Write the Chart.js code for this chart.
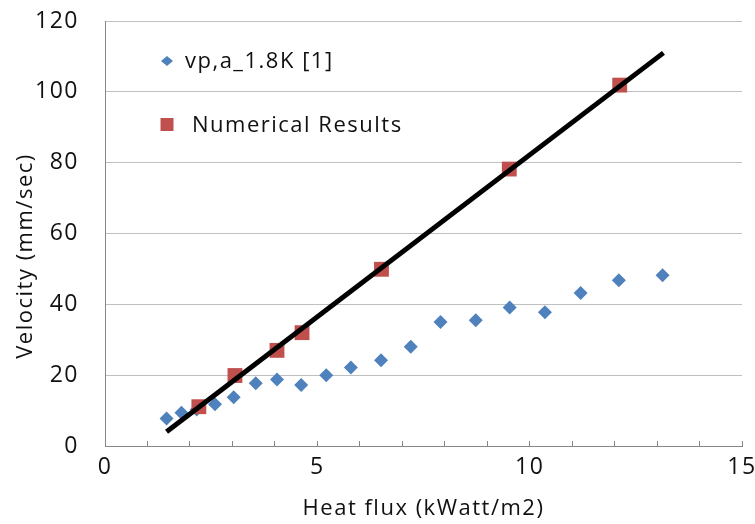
<!DOCTYPE html>
<html>
<head>
<meta charset="utf-8">
<script src="https://cdn.jsdelivr.net/npm/chart.js@4/dist/chart.umd.min.js"></script>
<style>
  html, body { margin: 0; padding: 0; background: #fff; }
  #wrap { width: 755px; height: 524px; }
</style>
</head>
<body>
<div id="wrap"><canvas id="chart"></canvas></div>
<script>
// experimental points vp,a_1.8K [1]
const expFlux = [1.45, 1.80, 2.16, 2.59, 3.03, 3.55, 4.05, 4.62, 5.21, 5.79, 6.50, 7.20, 7.90, 8.73, 9.53, 10.36, 11.20, 12.10, 13.13];
const expVel = [7.8, 9.4, 10.3, 11.8, 13.8, 17.7, 18.8, 17.2, 20.0, 22.2, 24.2, 28.0, 35.0, 35.5, 39.1, 37.8, 43.2, 46.8, 48.2];

// numerical results
const numFlux = [2.21, 3.06, 4.05, 4.64, 6.51, 9.52, 12.12];
const numVel = [11.1, 19.9, 27.0, 32.0, 49.9, 78.2, 101.9];

// black fit line end points
const fitFlux = [1.45, 13.15];
const fitVel = [4.0, 111.0];

const xTicks = [0, 5, 10, 15];
const yTicks = [0, 20, 40, 60, 80, 100, 120];

const FONT = '"Open Sans", sans-serif';
const SPACING = '1.5px';
const BLUE = '#4F81BD';
const RED = '#C0504D';
const INK = '#111';

function pts(xs, ys) {
  return xs.map((x, i) => ({ x: x, y: ys[i] }));
}

// wider letter spacing, like the original picture
const spacing = {
  id: 'spacing',
  beforeLayout(chart) { chart.ctx.letterSpacing = SPACING; },
  beforeDraw(chart) { chart.ctx.letterSpacing = SPACING; },
};

// legend drawn inside the plot, top-left
const innerLegend = {
  id: 'innerLegend',
  afterDraw(chart) {
    const ctx = chart.ctx;
    const area = chart.chartArea;
    const items = chart.data.datasets
      .filter((d) => d.label)
      .sort((a, b) => b.order - a.order);
    ctx.save();
    ctx.letterSpacing = SPACING;
    ctx.font = '22px ' + FONT;
    ctx.textBaseline = 'middle';
    items.forEach((d, i) => {
      const mx = area.left + 62;
      const my = area.top + 40 + i * 63.5;
      ctx.fillStyle = d.backgroundColor;
      ctx.beginPath();
      if (d.pointStyle === 'rectRot') {
        ctx.moveTo(mx - 6, my);
        ctx.lineTo(mx, my - 5);
        ctx.lineTo(mx + 6, my);
        ctx.lineTo(mx, my + 5);
        ctx.closePath();
      } else {
        ctx.rect(mx - 6.5, my - 6.5, 13, 13);
      }
      ctx.fill();
      ctx.fillStyle = INK;
      ctx.fillText(d.label, mx + (i === 0 ? 18 : 25), my + 1);
    });
    ctx.restore();
  },
};

// y title placed like the original (a bit below the middle)
const yTitle = {
  id: 'yTitle',
  afterDraw(chart) {
    const ctx = chart.ctx;
    ctx.save();
    ctx.letterSpacing = SPACING;
    ctx.translate(26, 256);
    ctx.rotate(-Math.PI / 2);
    ctx.font = '22px ' + FONT;
    ctx.fillStyle = INK;
    ctx.textAlign = 'center';
    ctx.textBaseline = 'middle';
    ctx.fillText('Velocity (mm/sec)', 0, 0);
    ctx.restore();
  },
};

new Chart(document.getElementById('chart'), {
  type: 'scatter',
  data: {
    datasets: [
      {
        data: pts(fitFlux, fitVel),
        showLine: true,
        borderColor: '#000',
        borderWidth: 5,
        pointRadius: 0,
        order: 0,
      },
      {
        label: 'Numerical Results',
        data: pts(numFlux, numVel),
        pointStyle: 'rect',
        pointRadius: 10.5,
        backgroundColor: RED,
        borderWidth: 0,
        order: 1,
      },
      {
        label: 'vp,a_1.8K [1]',
        data: pts(expFlux, expVel),
        pointStyle: 'rectRot',
        pointRadius: 7,
        backgroundColor: BLUE,
        borderWidth: 0,
        order: 2,
      },
    ],
  },
  options: {
    responsive: true,
    maintainAspectRatio: false,
    animation: false,
    layout: {
      padding: { top: 21, right: 13, left: 0, bottom: 0 },
    },
    plugins: {
      legend: { display: false },
      tooltip: { enabled: false },
    },
    scales: {
      x: {
        type: 'linear',
        min: 0,
        max: 15,
        afterFit: (s) => {
          s.height = 78;
          s.paddingLeft = 0;
          s.paddingRight = 0;
        },
        border: { color: '#868686', width: 1 },
        grid: {
          drawOnChartArea: false,
          color: '#868686',
          tickLength: -5,
        },
        ticks: {
          stepSize: 1,
          autoSkip: false,
          maxRotation: 0,
          padding: 13,
          color: INK,
          font: { family: FONT, size: 23 },
          callback: (v) => (xTicks.includes(v) ? v : ''),
        },
        title: {
          display: true,
          text: 'Heat flux (kWatt/m2)',
          color: INK,
          font: { family: FONT, size: 22 },
          padding: { top: 0, bottom: 2 },
        },
      },
      y: {
        type: 'linear',
        min: 0,
        max: 120,
        afterFit: (s) => {
          s.width = 105;
          s.paddingTop = 0;
          s.paddingBottom = 0;
        },
        border: { color: '#868686', width: 1 },
        grid: {
          color: '#c0c0c0',
          drawTicks: false,
        },
        ticks: {
          stepSize: 20,
          padding: 26,
          color: INK,
          font: { family: FONT, size: 23 },
          callback: (v) => (yTicks.includes(v) ? v : ''),
        },
      },
    },
  },
  plugins: [spacing, innerLegend, yTitle],
});
</script>
</body>
</html>
